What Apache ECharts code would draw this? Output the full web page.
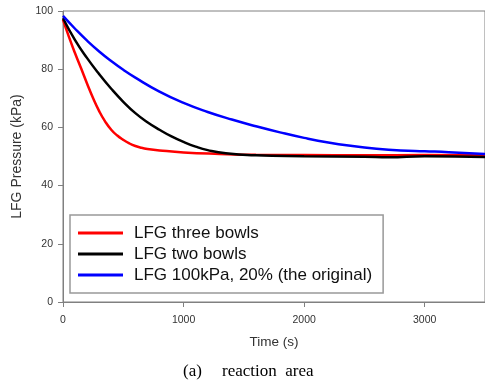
<!DOCTYPE html>
<html>
<head>
<meta charset="utf-8">
<script src="https://cdn.jsdelivr.net/npm/echarts@6/dist/echarts.min.js"></script>
<style>html,body{margin:0;padding:0;background:#fff}#c{width:485px;height:382px}</style>
</head>
<body>
<div id="c"></div>
<script>
var seriesNames = ['LFG three bowls', 'LFG two bowls', 'LFG 100kPa, 20% (the original)'];
var xTicks = [0, 1000, 2000, 3000];
var yTicks = [0, 20, 40, 60, 80, 100];

var redT = [0, 50, 100, 150, 200, 250, 300, 350, 400, 450, 500, 550, 600, 650, 700, 800, 1000, 1300, 1600, 2000, 2500, 3000, 3500];
var redV = [97, 91, 85.5, 80.3, 75, 70, 65.6, 62, 59.2, 57.2, 55.7, 54.5, 53.6, 53, 52.6, 52.1, 51.4, 50.9, 50.6, 50.5, 50.4, 50.5, 50.4];

var blackT = [0, 100, 200, 300, 400, 500, 600, 700, 800, 900, 1000, 1100, 1200, 1350, 1600, 2000, 2500, 2700, 3000, 3500];
var blackV = [97.5, 90, 83.8, 78.3, 73.3, 68.8, 64.9, 61.8, 59.2, 56.9, 55, 53.4, 52.2, 51.1, 50.4, 50.1, 49.9, 49.7, 50.1, 49.8];

var blueT = [0, 100, 200, 300, 400, 500, 600, 800, 1000, 1200, 1400, 1600, 1800, 2000, 2200, 2400, 2600, 2800, 3000, 3200, 3500];
var blueV = [98.3, 93.9, 89.8, 86.1, 82.8, 79.8, 77.1, 72.3, 68.4, 65.3, 62.7, 60.4, 58.3, 56.4, 54.8, 53.6, 52.7, 52.1, 51.8, 51.5, 50.9];

function pairs(t, v) { return t.map(function (x, i) { return [x, v[i]]; }); }

var chart = echarts.init(document.getElementById('c'));
var axisColor = '#808080';
var labelColor = '#333';
chart.setOption({
  animation: false,
  grid: { left: 63, top: 11, right: -3, bottom: 80, show: true, borderColor: axisColor, borderWidth: 1 },
  xAxis: {
    type: 'value', min: 0, max: 3500, interval: 1000,
    name: 'Time (s)', nameLocation: 'middle', nameGap: 33,
    nameTextStyle: { fontFamily: 'Liberation Sans', fontSize: 13.5, color: labelColor },
    axisLine: { show: true, lineStyle: { color: axisColor, width: 1 } },
    axisTick: { show: true, inside: false, length: 5, lineStyle: { color: axisColor } },
    axisLabel: { fontFamily: 'Liberation Sans', fontSize: 10.5, color: labelColor, margin: 13, showMaxLabel: false,
      formatter: function (v) { return String(v); } },
    splitLine: { show: false }
  },
  yAxis: {
    type: 'value', min: 0, max: 100, interval: 20,
    name: 'LFG Pressure (kPa)', nameLocation: 'middle', nameGap: 39,
    nameTextStyle: { fontFamily: 'Liberation Sans', fontSize: 14, color: labelColor },
    axisLine: { show: true, lineStyle: { color: axisColor, width: 1 } },
    axisTick: { show: true, inside: false, length: 5, lineStyle: { color: axisColor } },
    axisLabel: { fontFamily: 'Liberation Sans', fontSize: 10.5, color: labelColor, margin: 10 },
    splitLine: { show: false }
  },
  legend: {
    orient: 'vertical', left: 70, top: 215,
    data: seriesNames,
    icon: 'rect', itemWidth: 45, itemHeight: 3, itemGap: 3,
    padding: [9, 11, 9, 8],
    borderColor: '#999', borderWidth: 1.5,
    textStyle: { fontFamily: 'Liberation Sans', fontSize: 17, color: '#111', lineHeight: 18, padding: [0, 0, 0, 6] }
  },
  series: [
    { name: seriesNames[0], type: 'line', smooth: true, showSymbol: false, data: pairs(redT, redV), lineStyle: { color: '#ff0000', width: 2.5 }, itemStyle: { color: '#ff0000' } },
    { name: seriesNames[1], type: 'line', smooth: true, showSymbol: false, data: pairs(blackT, blackV), lineStyle: { color: '#000000', width: 2.5 }, itemStyle: { color: '#000000' } },
    { name: seriesNames[2], type: 'line', smooth: true, showSymbol: false, data: pairs(blueT, blueV), lineStyle: { color: '#0000ff', width: 2.5 }, itemStyle: { color: '#0000ff' } }
  ],
  graphic: [
    { type: 'text', left: 183, top: 363, style: { text: '(a)', fontFamily: 'Liberation Serif', fontSize: 17, fill: '#000' } },
    { type: 'text', left: 222, top: 363, style: { text: 'reaction  area', fontFamily: 'Liberation Serif', fontSize: 17, fill: '#000' } }
  ]
});
</script>
</body>
</html>
